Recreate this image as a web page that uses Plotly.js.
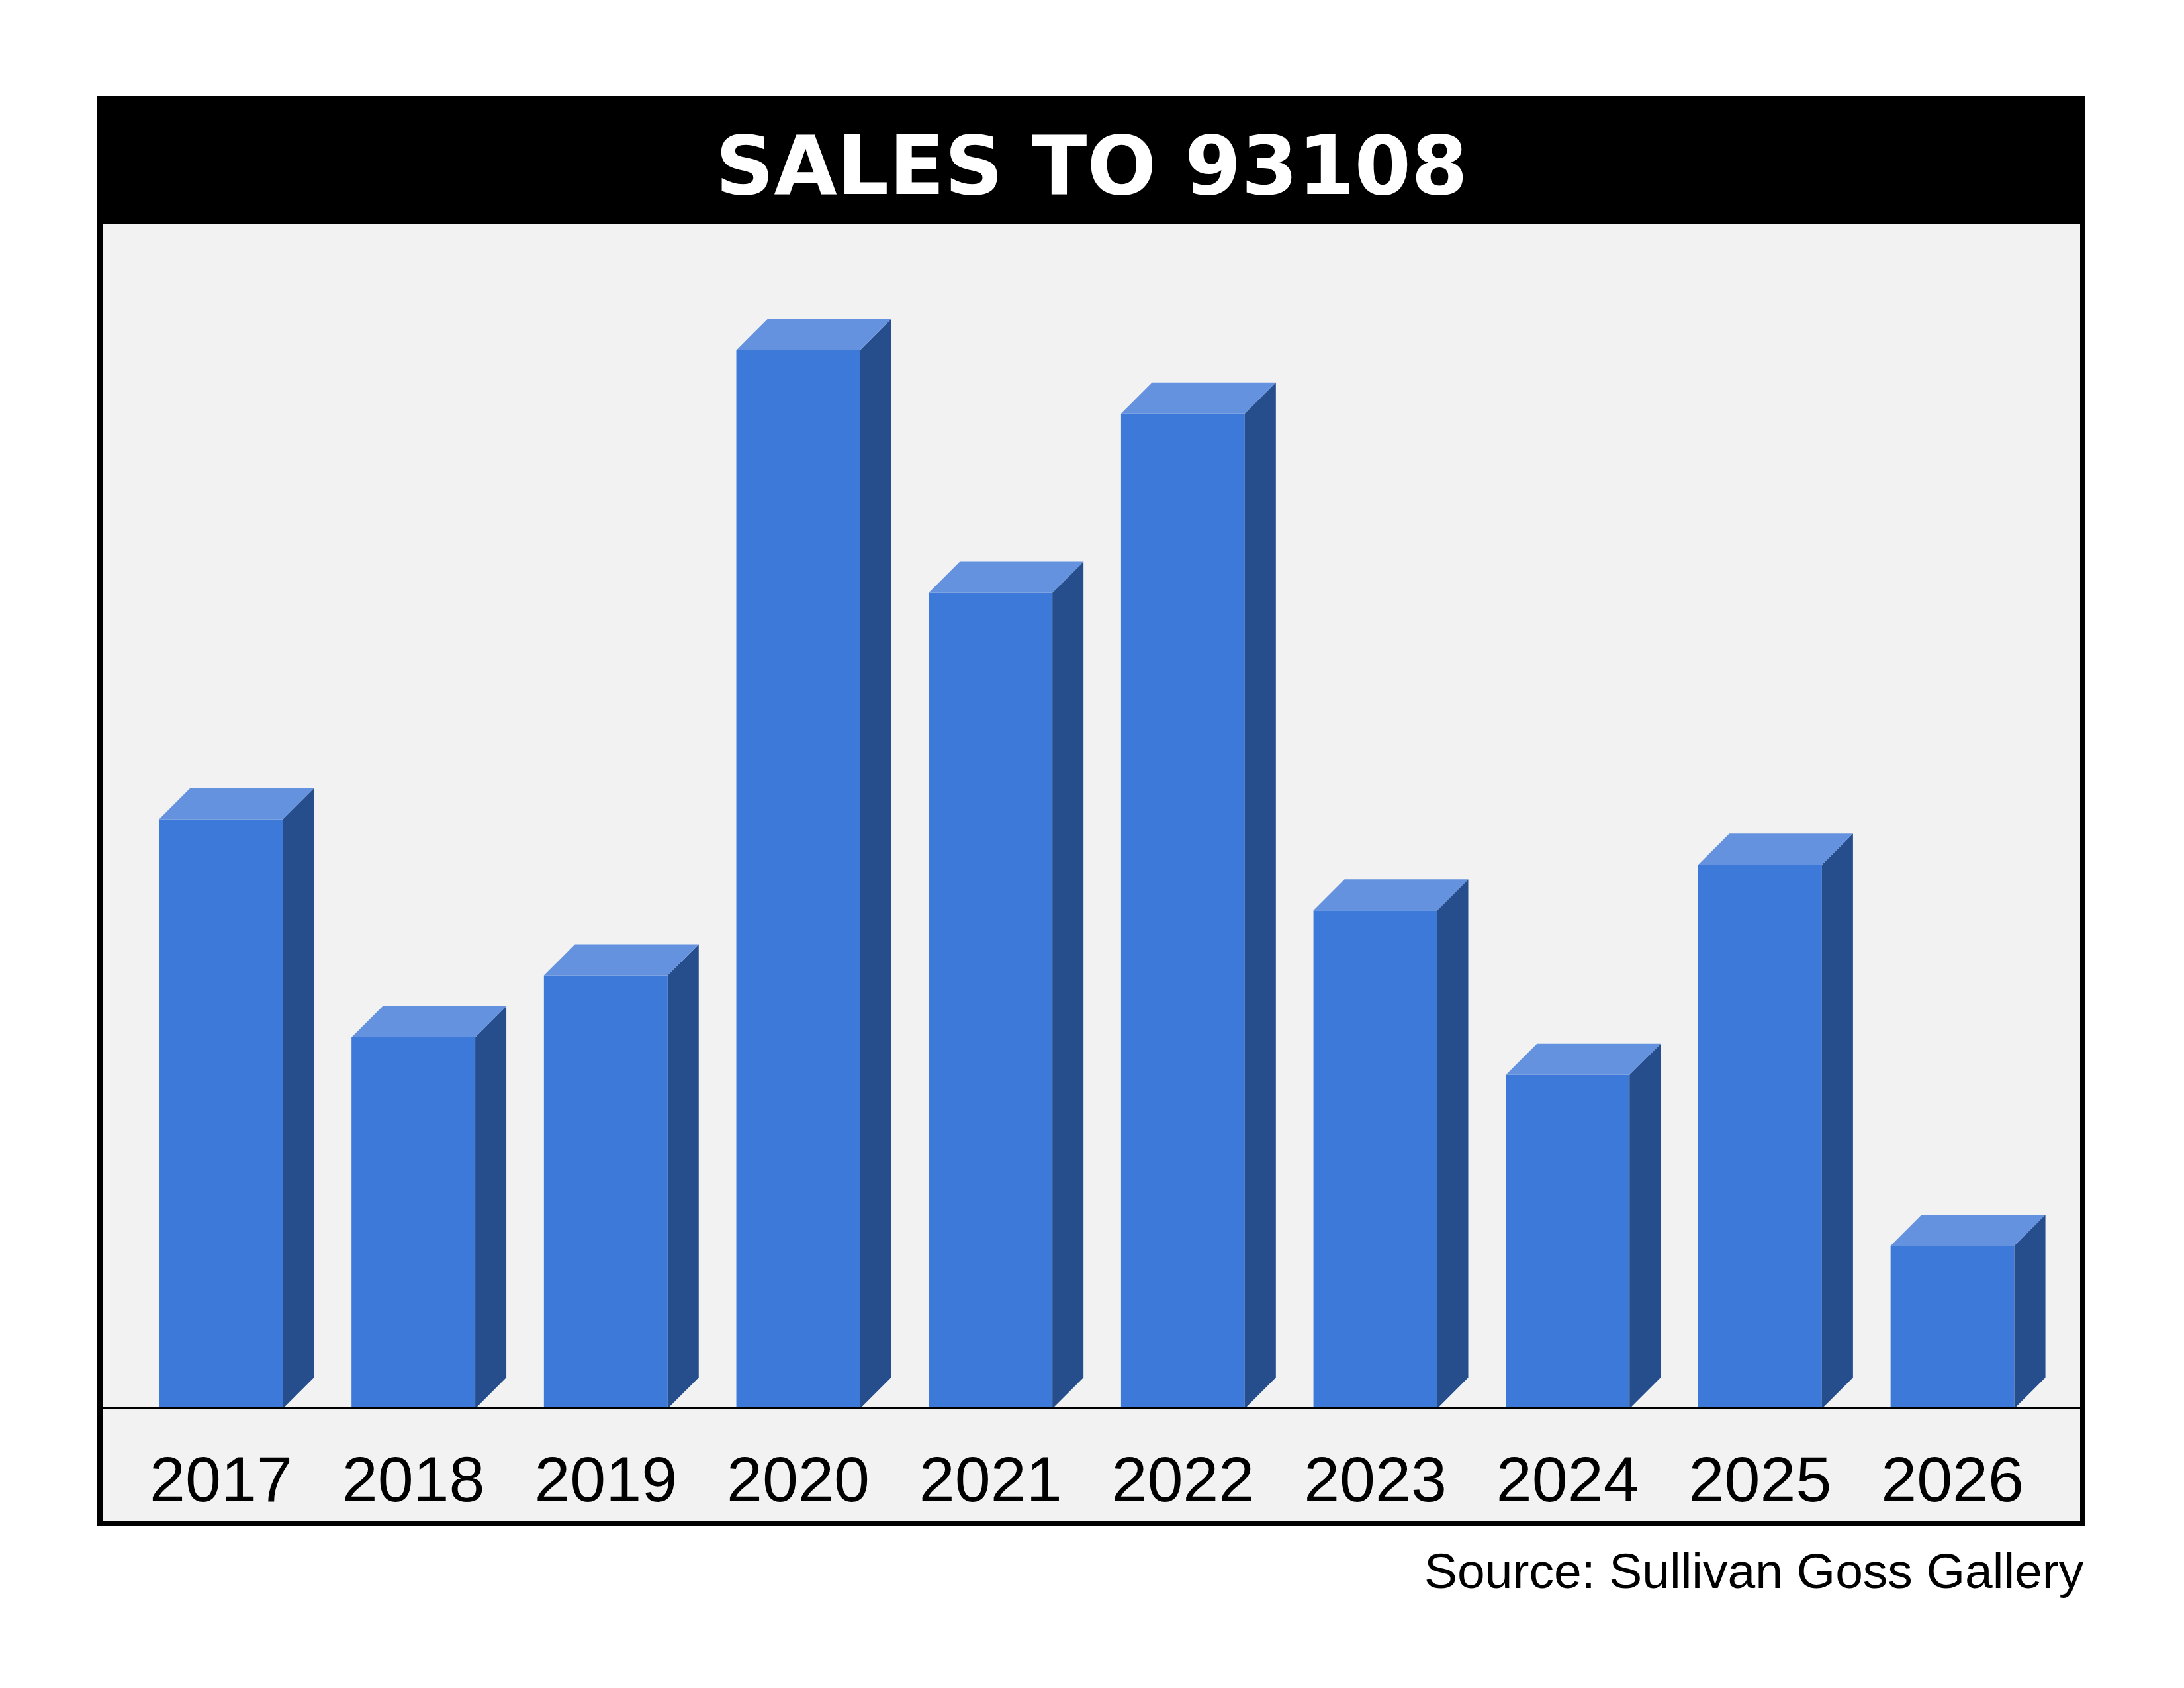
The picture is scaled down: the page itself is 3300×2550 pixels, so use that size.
<!DOCTYPE html>
<html>
<head>
<meta charset="utf-8">
<script src="https://cdn.plot.ly/plotly-3.0.1.min.js"></script>
<style>
  html, body { margin: 0; padding: 0; background: #ffffff; }
  #chart { width: 3300px; height: 2550px; }
</style>
</head>
<body>
<div id="chart"></div>
<script>
// data (no axis scale shown, heights are relative)
const years = ['2017', '2018', '2019', '2020', '2021', '2022', '2023', '2024', '2025', '2026'];
const sales = [36.2, 22.8, 26.6, 65.0, 50.1, 61.1, 30.6, 20.5, 33.4, 10.0];

const titleText = 'SALES TO 93108';
const sourceText = 'Source: Sullivan Goss Gallery';

// page geometry in pixels
const W = 3300, H = 2550;
const plotL = 154, plotR = 3144, plotT = 337, plotB = 2128;
const frameL = 147, frameR = 3151, frameT = 145, frameB = 2305, frameW = 8;
const xMin = -0.619, xMax = 9.667, yMax = 72.8;
const barW = 0.643;
const depthPx = 47;

const dx = depthPx * (xMax - xMin) / (plotR - plotL);
const dy = depthPx * yMax / (plotB - plotT);

const frontColor = '#3c79d9';
const topColor = '#6592de';
const sideColor = '#264e8d';
const fontFam = '"Liberation Sans", Arial, sans-serif';
const titleFam = '"DejaVu Sans", "Liberation Sans", sans-serif';

function px2paperX(px) { return (px - plotL) / (plotR - plotL); }
function px2paperY(py) { return (plotB - py) / (plotB - plotT); }

const idx = years.map((_, i) => i);

// side and top faces, one polygon per bar, split by nulls
const sideX = [], sideY = [], topX = [], topY = [];
idx.forEach(i => {
    const v = sales[i];
    const xl = i - barW / 2, xr = i + barW / 2;
    sideX.push(xr, xr + dx, xr + dx, xr, xr, null);
    sideY.push(0, dy, v + dy, v, 0, null);
    topX.push(xl, xl + dx, xr + dx, xr, xl, null);
    topY.push(v, v + dy, v + dy, v, v, null);
});

const data = [
    {
        type: 'bar',
        x: idx,
        y: sales,
        width: barW,
        marker: { color: frontColor, line: { width: 0 } },
        hoverinfo: 'skip'
    },
    {
        type: 'scatter',
        x: sideX,
        y: sideY,
        mode: 'lines',
        fill: 'toself',
        fillcolor: sideColor,
        line: { width: 0, color: sideColor },
        hoverinfo: 'skip'
    },
    {
        type: 'scatter',
        x: topX,
        y: topY,
        mode: 'lines',
        fill: 'toself',
        fillcolor: topColor,
        line: { width: 0, color: topColor },
        hoverinfo: 'skip'
    }
];

const layout = {
    width: W,
    height: H,
    margin: { l: plotL, r: W - plotR, t: plotT, b: H - plotB, pad: 0 },
    paper_bgcolor: '#ffffff',
    plot_bgcolor: '#f2f2f2',
    showlegend: false,
    font: { family: fontFam, color: '#000000' },
    xaxis: {
        range: [xMin, xMax],
        tickmode: 'array',
        tickvals: idx,
        ticktext: years,
        tickfont: { family: fontFam, size: 97, color: '#000000' },
        ticks: '',
        ticklabelstandoff: 42,
        showgrid: false,
        zeroline: false,
        showline: false,
        fixedrange: true
    },
    yaxis: {
        range: [0, yMax],
        visible: false,
        showgrid: false,
        zeroline: false,
        fixedrange: true
    },
    shapes: [
        // label band background
        {
            type: 'rect', xref: 'paper', yref: 'paper', layer: 'below',
            x0: px2paperX(frameL), x1: px2paperX(frameR),
            y0: px2paperY(frameB), y1: px2paperY(plotB),
            fillcolor: '#f2f2f2', line: { width: 0 }
        },
        // title bar
        {
            type: 'rect', xref: 'paper', yref: 'paper',
            x0: px2paperX(frameL), x1: px2paperX(frameR),
            y0: px2paperY(plotT + 2), y1: px2paperY(frameT),
            fillcolor: '#000000', line: { width: 0 }
        },
        // baseline
        {
            type: 'line', xref: 'paper', yref: 'y',
            x0: px2paperX(frameL), x1: px2paperX(frameR), y0: 0, y1: 0,
            line: { color: '#000000', width: 4 }
        },
        // outer frame
        {
            type: 'rect', xref: 'paper', yref: 'paper',
            x0: px2paperX(frameL + frameW / 2), x1: px2paperX(frameR - frameW / 2),
            y0: px2paperY(frameB - frameW / 2), y1: px2paperY(frameT + frameW / 2),
            fillcolor: 'rgba(0,0,0,0)', line: { color: '#000000', width: frameW }
        }
    ],
    annotations: [
        {
            text: '<b>' + titleText + '</b>',
            xref: 'paper', yref: 'paper',
            x: px2paperX((frameL + frameR) / 2), y: px2paperY(250),
            xanchor: 'center', yanchor: 'middle',
            showarrow: false,
            font: { family: titleFam, size: 123, color: '#ffffff' }
        },
        {
            text: sourceText,
            xref: 'paper', yref: 'paper',
            x: px2paperX(frameR), y: px2paperY(2373),
            xanchor: 'right', yanchor: 'middle',
            showarrow: false,
            font: { family: fontFam, size: 75, color: '#000000' }
        }
    ]
};

Plotly.newPlot('chart', data, layout, { displayModeBar: false, staticPlot: true });
</script>
</body>
</html>
